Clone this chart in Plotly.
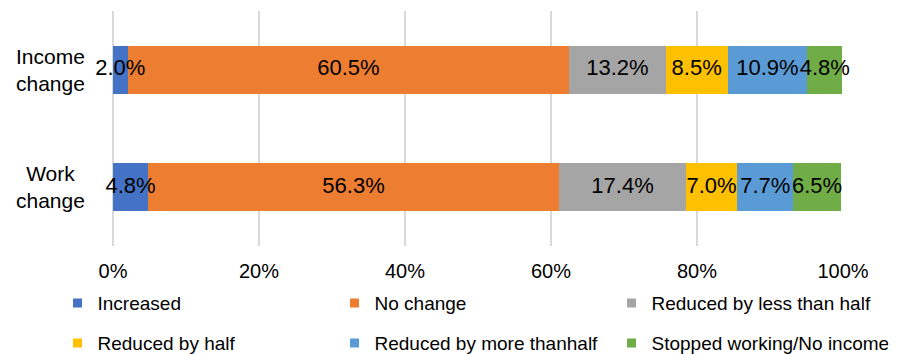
import plotly.graph_objects as go

# Survey categories (top to bottom) and response shares in percent
categories = ["Income change", "Work change"]
category_labels = ["Income<br>change", "Work<br>change"]

series_names = [
    "Increased",
    "No change",
    "Reduced by less than half",
    "Reduced by half",
    "Reduced by more thanhalf",
    "Stopped working/No income",
]
increased = [2.0, 4.8]
no_change = [60.5, 56.3]
reduced_less_half = [13.2, 17.4]
reduced_half = [8.5, 7.0]
reduced_more_half = [10.9, 7.7]
stopped = [4.8, 6.5]

series_values = [increased, no_change, reduced_less_half,
                 reduced_half, reduced_more_half, stopped]
colors = ["#4472C4", "#ED7D31", "#A5A5A5", "#FFC000", "#5B9BD5", "#70AD47"]

tick_values = [0, 20, 40, 60, 80, 100]
tick_labels = ["0%", "20%", "40%", "60%", "80%", "100%"]

FONT = "Liberation Sans, Arial, sans-serif"

fig = go.Figure()

# Stacked segments
for name, vals, col in zip(series_names, series_values, colors):
    fig.add_trace(go.Bar(
        x=vals,
        y=categories,
        orientation="h",
        name=name,
        marker=dict(color=col, line=dict(width=0)),
        width=0.41,
        showlegend=False,
        hoverinfo="skip",
    ))

# Value labels drawn on top of all segments, centred on each segment
starts = [0.0] * len(categories)
for name, vals in zip(series_names, series_values):
    mids = [s + v / 2 for s, v in zip(starts, vals)]
    fig.add_trace(go.Scatter(
        x=mids,
        y=categories,
        mode="text",
        text=[f"{v:.1f}%" for v in vals],
        textposition="middle center",
        textfont=dict(family=FONT, size=22, color="#000000"),
        showlegend=False,
        hoverinfo="skip",
        cliponaxis=False,
    ))
    starts = [s + v for s, v in zip(starts, vals)]

# Legend entries: two rows of three
for i, (name, col) in enumerate(zip(series_names, colors)):
    fig.add_trace(go.Scatter(
        x=[None], y=[None],
        mode="markers",
        name=name,
        marker=dict(symbol="square", size=9, color=col),
        legend="legend" if i < 3 else "legend2",
        showlegend=True,
    ))

# Category labels, centred over two lines
for cat, lab in zip(categories, category_labels):
    fig.add_annotation(
        x=-0.086, xref="paper", y=cat, yref="y",
        text=lab, showarrow=False, align="center",
        xanchor="center", yanchor="middle",
        font=dict(family=FONT, size=21, color="#000000"),
    )

legend_common = dict(
    orientation="h",
    traceorder="normal",
    xref="paper", yref="paper",
    xanchor="left", yanchor="middle",
    entrywidth=232, entrywidthmode="pixels",
    font=dict(family=FONT, size=19, color="#000000"),
    bgcolor="rgba(0,0,0,0)",
    itemclick=False,
)

fig.update_layout(
    width=911, height=354,
    margin=dict(l=113, r=68, t=11, b=108, autoexpand=False),
    paper_bgcolor="white", plot_bgcolor="white",
    barmode="stack",
    bargap=0.59,
    legend=dict(x=-0.076, y=-0.243, **legend_common),
    legend2=dict(x=-0.076, y=-0.413, **legend_common),
    xaxis=dict(
        range=[0, 100],
        tickvals=tick_values, ticktext=tick_labels,
        showgrid=True, gridcolor="#D9D9D9", gridwidth=1.5,
        zeroline=True, zerolinecolor="#D9D9D9", zerolinewidth=1.5,
        showline=False, ticks="",
        ticklabelstandoff=11,
        tickfont=dict(family=FONT, size=20, color="#000000"),
        fixedrange=True,
    ),
    yaxis=dict(
        categoryorder="array",
        categoryarray=categories[::-1],
        range=[-0.5, 1.5],
        showticklabels=False, showgrid=False, zeroline=False,
        ticks="", fixedrange=True,
    ),
)

fig.write_html("out.html")
